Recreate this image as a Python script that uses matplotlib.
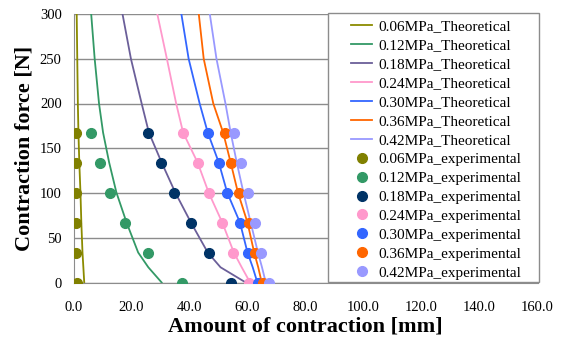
import matplotlib
matplotlib.use("Agg")
import matplotlib.pyplot as plt
from matplotlib.patches import Rectangle
import numpy as np

plt.rcParams['font.family'] = ['Liberation Serif', 'DejaVu Serif']

pressures = ['0.06MPa', '0.12MPa', '0.18MPa', '0.24MPa', '0.30MPa', '0.36MPa', '0.42MPa']

# theoretical curves: contraction [mm] at each force [N]
force_theory = [0, 17, 33.5, 67, 100.5, 134, 167.5, 200, 250, 300, 320]
theory_006 = [3.7, 3.4, 3.1, 2.7, 2.4, 2.0, 1.7, 1.5, 1.3, 1.1, 1.0]
theory_012 = [30.4, 25.8, 22.3, 18.3, 14.8, 12.3, 10.2, 8.8, 7.3, 6.1, 5.6]
theory_018 = [59.4, 50.7, 46.3, 40.5, 35.1, 30.4, 26.0, 23.5, 19.8, 16.9, 15.9]
theory_024 = [60.9, 58.0, 55.3, 51.3, 46.6, 42.8, 37.8, 35.4, 32.2, 28.9, 27.9]
theory_030 = [63.4, 61.8, 60.0, 57.4, 53.0, 50.1, 46.3, 43.5, 39.7, 37.2, 36.4]
theory_036 = [64.9, 63.7, 62.3, 60.0, 56.7, 54.2, 51.6, 48.2, 44.9, 43.2, 42.6]
theory_042 = [66.3, 65.0, 63.6, 61.1, 58.6, 56.3, 54.2, 52.4, 49.3, 47.0, 46.4]

# experimental points
force_exp = [0, 33.5, 67, 100.5, 134, 167.5]
exp_006 = [1.1, 1.0, 1.0, 1.0, 0.9, 0.9]
exp_012 = [37.3, 25.6, 17.7, 12.7, 9.0, 6.1]
exp_018 = [54.2, 46.6, 40.6, 34.8, 30.2, 25.7]
exp_024 = [60.5, 55.1, 51.3, 46.6, 43.0, 37.8]
exp_030 = [63.7, 60.0, 57.4, 53.0, 50.1, 46.4]
exp_036 = [65.2, 62.5, 60.5, 57.1, 54.4, 52.3]
exp_042 = [67.5, 64.8, 62.6, 60.2, 57.9, 55.5]

theory = [theory_006, theory_012, theory_018, theory_024, theory_030, theory_036, theory_042]
experiments = [exp_006, exp_012, exp_018, exp_024, exp_030, exp_036, exp_042]

theory_colours = ['#8B8B00', '#339966', '#6B5F99', '#FF99CC', '#3366FF', '#FF6600', '#9999FF']
exp_colours = ['#808000', '#339966', '#003366', '#FF99CC', '#3366FF', '#FF6600', '#9999FF']

W, H = 565, 340
fig = plt.figure(figsize=(W / 100, H / 100), dpi=100)
ax = fig.add_axes([73.5 / W, 57.5 / H, 464 / W, 268.5 / H])

for p, vals, c in zip(pressures, theory, theory_colours):
    ax.plot(vals, force_theory, color=c, lw=1.3, label=p + '_Theoretical', zorder=2)

for p, vals, c in zip(pressures, experiments, exp_colours):
    ax.plot(vals, force_exp, 'o', color=c, ms=7, label=p + '_experimental', zorder=3)

ax.set_xlim(0, 160)
ax.set_ylim(0, 300)
ax.set_xticks(np.arange(0, 161, 20))
ax.set_xticklabels([f'{v:.1f}' for v in np.arange(0, 161, 20)])
ax.set_yticks(np.arange(0, 301, 50))
ax.tick_params(length=0, labelsize=10.5)
ax.tick_params(axis='x', pad=13)
ax.tick_params(axis='y', pad=8.5)
ax.grid(axis='y', color='#8c8c8c', lw=1)
ax.set_axisbelow(True)
for s in ['top', 'right']:
    ax.spines[s].set_visible(False)
for s in ['left', 'bottom']:
    ax.spines[s].set_color('#8c8c8c')

ax.set_xlabel('Amount of contraction [mm]', fontsize=16, fontweight='bold', labelpad=2)
ax.set_ylabel('Contraction force [N]', fontsize=16, fontweight='bold', labelpad=4)

# legend box drawn separately so the inner padding can match
box = Rectangle((328 / W, 1 - 282 / H), 211 / W, 269 / H, transform=fig.transFigure,
                facecolor='white', edgecolor='#8c8c8c', lw=1, zorder=4)
fig.patches.append(box)

leg = fig.legend(loc='upper left', bbox_to_anchor=(351 / W, 1 - 19.5 / H),
                 fontsize=11, frameon=False, borderpad=0, labelspacing=0.345,
                 handlelength=1.4, handletextpad=0.4, borderaxespad=0)
leg.set_zorder(5)

fig.savefig('out.png', dpi=100)
